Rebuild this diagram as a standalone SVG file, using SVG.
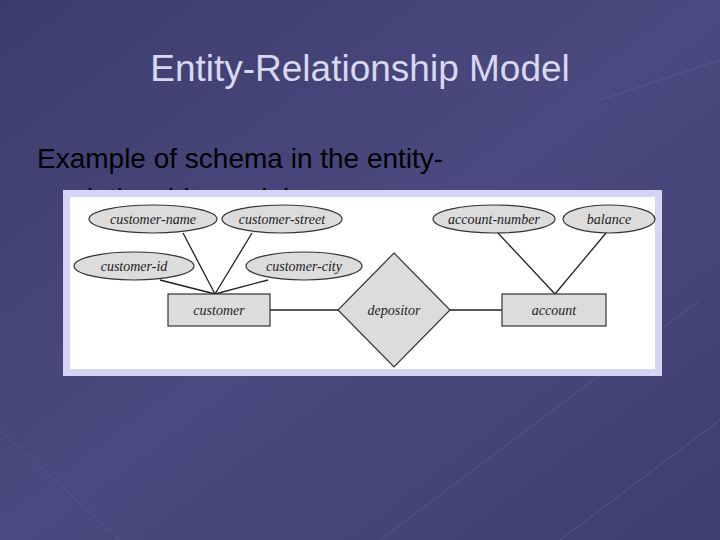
<svg xmlns="http://www.w3.org/2000/svg" width="720" height="540" viewBox="0 0 720 540">
<defs>
<linearGradient id="bg" x1="0" y1="0" x2="1" y2="1">
<stop offset="0" stop-color="#3c3c6c"/><stop offset="0.5" stop-color="#4a4a80"/><stop offset="1" stop-color="#3e3e70"/>
</linearGradient>
<style>
.a{fill:#dcdcdc;stroke:#333;stroke-width:1.2}
.t{font-family:"Liberation Serif",serif;font-style:italic;font-size:14px;fill:#222;text-anchor:middle}
.l{stroke:#222;stroke-width:1.3;fill:none}
</style>
</defs>
<rect width="720" height="540" fill="url(#bg)"/>
<g stroke="#6a6aa0" stroke-width="1" opacity="0.5" fill="none">
<path d="M380 540 L700 300"/><path d="M560 540 L720 420"/><path d="M0 430 L120 540"/><path d="M600 100 L720 60"/>
</g>
<text x="360" y="81" font-family="Liberation Sans,sans-serif" font-size="37" fill="#d8d8f0" text-anchor="middle">Entity-Relationship Model</text>
<text x="37" y="168" font-family="Liberation Sans,sans-serif" font-size="28" fill="#000">Example of schema in the entity-</text>
<text x="62" y="208" font-family="Liberation Sans,sans-serif" font-size="28" fill="#000">relationship model</text>
<rect x="63" y="190" width="599" height="186" fill="#d4d4f4"/>
<rect x="70" y="197" width="585" height="172" fill="#fff"/>
<g id="connectors">
<path class="l" d="M183 233L215 294M252 233L215 294M160 280L215 294M268 280L215 294M498 233L555 294M606 233L555 294"/>
<path class="l" stroke-width="2" d="M270 310H338M450 310H502"/>
</g>
<g id="customer-name"><ellipse class="a" cx="153" cy="219" rx="64" ry="14"/><text class="t" x="153" y="224">customer-name</text></g>
<g id="customer-street"><ellipse class="a" cx="282" cy="219" rx="60" ry="14"/><text class="t" x="282" y="224">customer-street</text></g>
<g id="account-number"><ellipse class="a" cx="494" cy="219" rx="61" ry="14"/><text class="t" x="494" y="224">account-number</text></g>
<g id="balance"><ellipse class="a" cx="609" cy="219" rx="46" ry="14"/><text class="t" x="609" y="224">balance</text></g>
<g id="customer-id"><ellipse class="a" cx="134" cy="266" rx="60" ry="14"/><text class="t" x="134" y="271">customer-id</text></g>
<g id="customer-city"><ellipse class="a" cx="304" cy="266" rx="58" ry="14"/><text class="t" x="304" y="271">customer-city</text></g>
<g id="customer"><rect class="a" x="168" y="294" width="102" height="32"/><text class="t" x="219" y="315">customer</text></g>
<g id="depositor"><polygon class="a" points="394,253 450,310 394,367 338,310"/><text class="t" x="394" y="315">depositor</text></g>
<g id="account"><rect class="a" x="502" y="294" width="104" height="32"/><text class="t" x="554" y="315">account</text></g>
</svg>
